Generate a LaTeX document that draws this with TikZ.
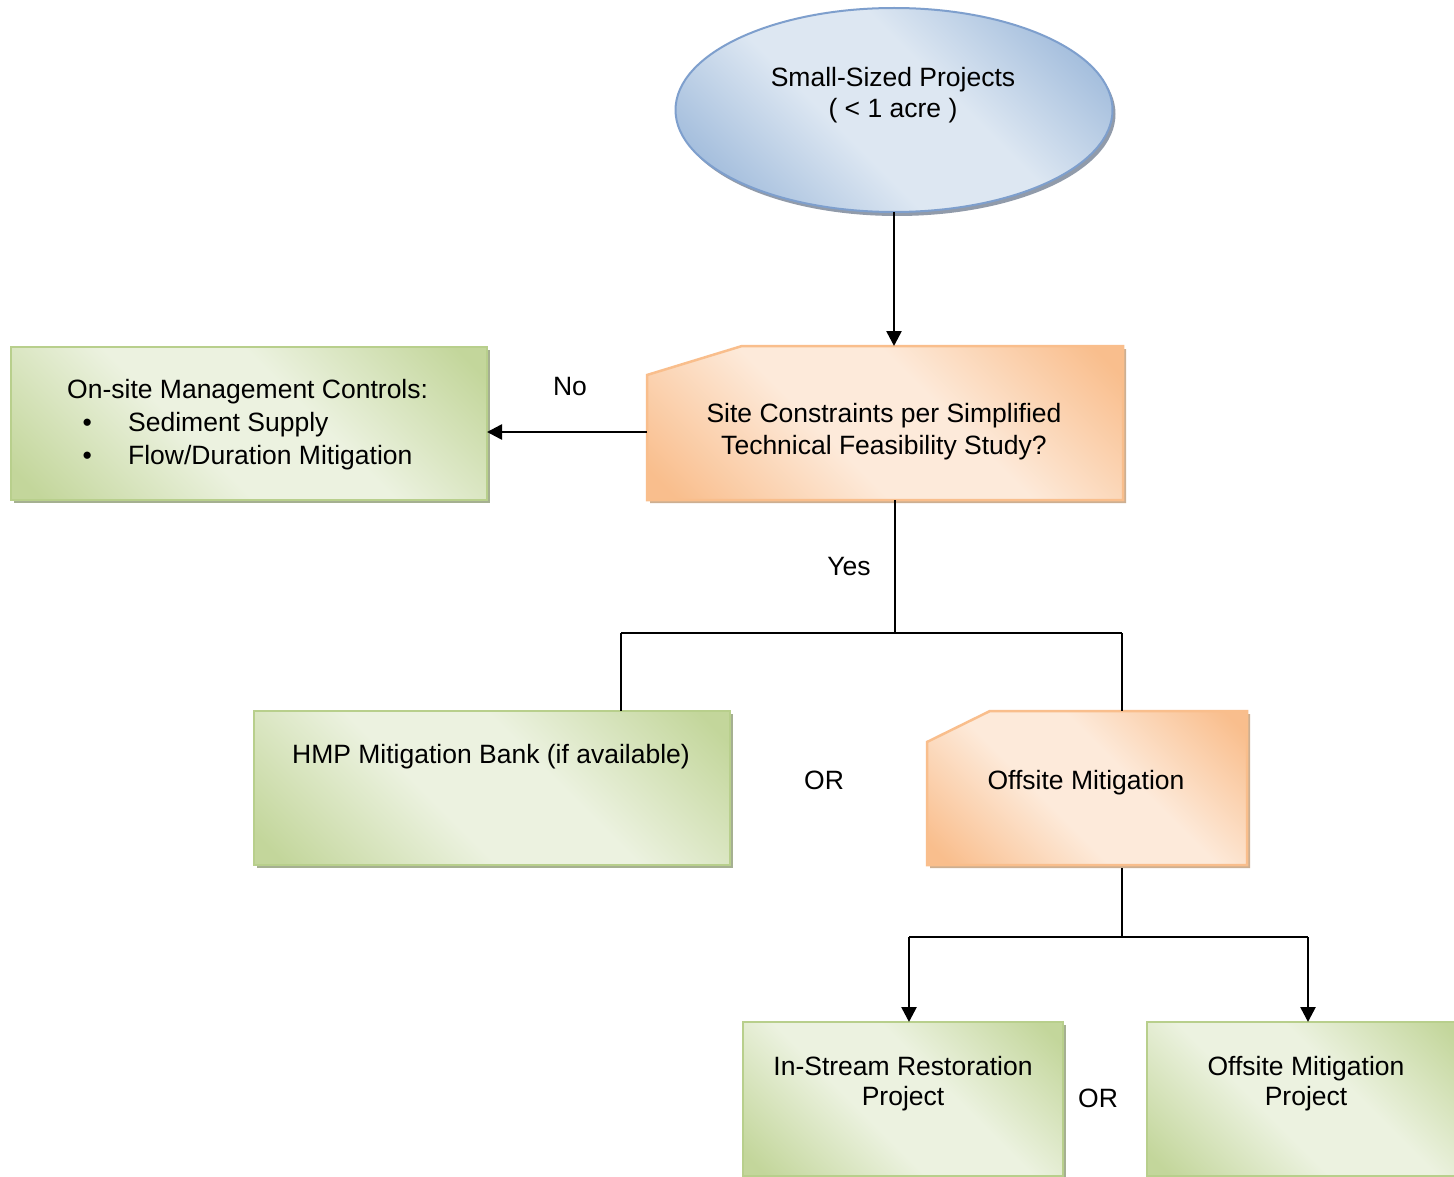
\documentclass[tikz,border=0pt]{standalone}
\usepackage{fontspec}
\setmainfont{Liberation Sans}
\usetikzlibrary{shapes.geometric, shadows, arrows.meta, calc}

\definecolor{grndark}{RGB}{195,214,155}
\definecolor{grnlight}{RGB}{236,242,224}
\definecolor{grnline}{RGB}{184,207,140}
\definecolor{grnshade}{RGB}{165,176,145}
\definecolor{orgdark}{RGB}{249,190,141}
\definecolor{orglight}{RGB}{253,234,218}
\definecolor{orgline}{RGB}{249,190,140}
\definecolor{orgshade}{RGB}{205,175,145}
\definecolor{bludark}{RGB}{149,179,215}
\definecolor{blulight}{RGB}{221,231,242}
\definecolor{bluline}{RGB}{126,159,205}
\definecolor{blushade}{RGB}{145,155,170}

% diagonal fills: dark corners, broad light band through the middle
\pgfdeclareverticalshading{grnshading}{100bp}{color(0bp)=(grndark); color(18bp)=(grndark);
  color(42bp)=(grnlight); color(58bp)=(grnlight); color(82bp)=(grndark); color(100bp)=(grndark)}
\pgfdeclareverticalshading{orgshading}{100bp}{color(0bp)=(orgdark); color(18bp)=(orgdark);
  color(42bp)=(orglight); color(58bp)=(orglight); color(82bp)=(orgdark); color(100bp)=(orgdark)}
\pgfdeclareverticalshading{blushading}{100bp}{color(0bp)=(bludark); color(18bp)=(bludark);
  color(42bp)=(blulight); color(58bp)=(blulight); color(82bp)=(bludark); color(100bp)=(bludark)}

\begin{document}
\begin{tikzpicture}[x=1pt, y=-1pt,
  txt/.style={inner sep=0pt, align=center, font=\fontsize{26.5}{31}\selectfont},
  greenfill/.style={draw=grnline, line width=2pt, shade, shading=grnshading, shading angle=-45,
    drop shadow={shadow xshift=3pt, shadow yshift=-3pt, fill=grnshade, opacity=1}},
  greenbox/.style={greenfill, rectangle, inner sep=0pt, outer sep=0pt},
  orangefill/.style={draw=orgline, line width=2.5pt, shade, shading=orgshading, shading angle=-45,
    drop shadow={shadow xshift=3pt, shadow yshift=-3pt, fill=orgshade, opacity=1}},
  bluefill/.style={draw=bluline, line width=2pt, shade, shading=blushading, shading angle=-45,
    drop shadow={shadow xshift=3pt, shadow yshift=-4pt, fill=blushade, opacity=1}},
  holder/.style={rectangle, inner sep=0pt, outer sep=0pt, draw=none},
  conn/.style={line width=2.6pt, black},
  arr/.style={conn, -{Triangle[length=15pt,width=15pt]}}
]
\useasboundingbox (0,0) rectangle (1454,1177);
\fill[white] (0,0) rectangle (1454,1177);

% start ellipse
\node[ellipse, inner sep=0pt, outer sep=0pt, minimum width=437, minimum height=204, bluefill] (start) at (894,110) {};
\node[txt] (startt) at (893,95) {Small-Sized Projects\\( < 1 acre )};

% decision
\node[holder, minimum width=476, minimum height=154] (dec) at (885,423) {};
\path[orangefill] (dec.south west) -- ($(dec.north west)+(0,29)$) -- ($(dec.north west)+(95,0)$)
  -- (dec.north east) -- (dec.south east) -- cycle;
\node[txt, font=\fontsize{26.5}{32}\selectfont] (dect) at (884,432) {Site Constraints per Simplified\\Technical Feasibility Study?};

% on-site controls
\node[greenbox, minimum width=476, minimum height=153] (onsite) at (249,423.5) {};
\node[txt, align=left, anchor=west, font=\fontsize{26.5}{33}\selectfont] (onsitet) at (67,425) {On-site Management Controls:\\\hspace*{15.5pt}\makebox[45.5pt][l]{\textbullet}Sediment Supply\\\hspace*{15.5pt}\makebox[45.5pt][l]{\textbullet}Flow/Duration Mitigation};

% HMP bank
\node[greenbox, minimum width=476, minimum height=154] (hmp) at (492,788) {};
\node[txt] (hmpt) at (491,757) {HMP Mitigation Bank (if available)};

% offsite mitigation
\node[holder, minimum width=320, minimum height=154] (off) at (1087,788) {};
\path[orangefill] (off.south west) -- ($(off.north west)+(0,31)$) -- ($(off.north west)+(63,0)$)
  -- (off.north east) -- (off.south east) -- cycle;
\node[txt] (offt) at (1086,783) {Offsite Mitigation};

% project boxes
\node[greenbox, minimum width=320, minimum height=154] (ins) at (903,1099) {};
\node[txt, font=\fontsize{26.5}{30}\selectfont] (inst) at (903,1084) {In-Stream Restoration\\Project};
\node[greenbox, minimum width=320, minimum height=154] (omp) at (1307,1099) {};
\node[txt, font=\fontsize{26.5}{30}\selectfont] (ompt) at (1306,1084) {Offsite Mitigation\\Project};

% labels
\node[txt] (no) at (570,387) {No};
\node[txt] (yes) at (849,567) {Yes};
\node[txt] (or1) at (824,780) {OR};
\node[txt] (or2) at (1098,1098) {OR};

% connectors
\draw[arr] (start.south) -- (start.south |- dec.north);
\draw[arr] ([yshift=-9pt]dec.west) -- ([yshift=-9pt]dec.west -| onsite.east);
\coordinate (j1) at (895,633);
\coordinate (j1l) at (621,633);
\coordinate (j1r) at (1122,633);
\draw[conn] (dec.south -| j1) -- (j1);
\draw[conn] (j1l) -- (j1r);
\draw[conn] (j1l) -- (j1l |- hmp.north);
\draw[conn] (j1r) -- (j1r |- off.north);
\coordinate (j2) at (1122,937);
\coordinate (j2l) at (909,937);
\coordinate (j2r) at (1308,937);
\draw[conn] ([yshift=-3pt]off.south -| j2) -- (j2);
\draw[conn] (j2l) -- (j2r);
\draw[arr] (j2l) -- (j2l |- ins.north);
\draw[arr] (j2r) -- (j2r |- omp.north);
\end{tikzpicture}
\end{document}
